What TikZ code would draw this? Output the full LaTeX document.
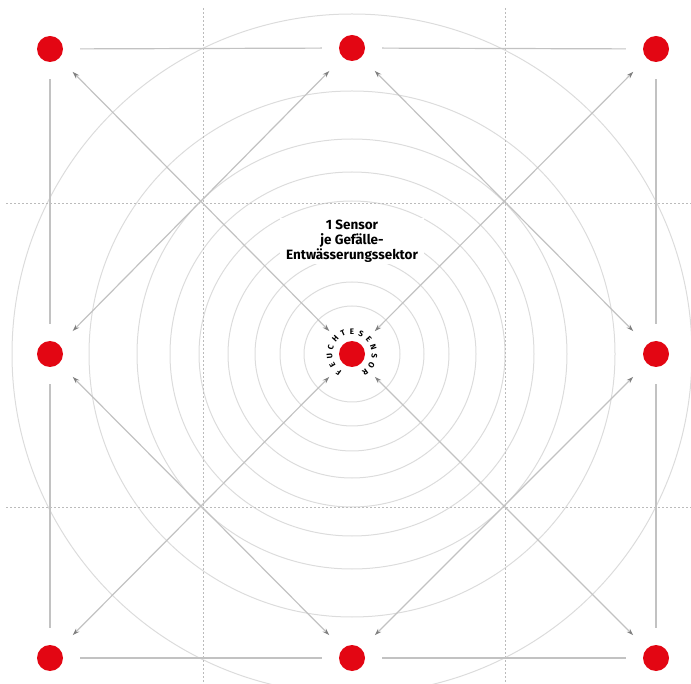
\documentclass[tikz,border=0pt]{standalone}
\usepackage{fontspec}
\setmainfont{Fira Sans}
\usetikzlibrary{arrows.meta}
\definecolor{sensorred}{HTML}{E30613}
\definecolor{linegray}{HTML}{C2C2C2}
\definecolor{ringgray}{HTML}{DCDCDC}
\definecolor{tipgray}{HTML}{808080}
\definecolor{dotgray}{HTML}{BBBBBB}

\begin{document}
\begin{tikzpicture}[x=1pt,y=-1pt,
		sensor/.style={
			circle,
			fill=sensorred,
			minimum size=26pt,
			inner sep=0pt
		},
		rim/.style={draw=linegray,line width=1.2pt,shorten <=17pt,shorten >=17pt},
		flow/.style={draw=linegray,line width=1.2pt,
			{Stealth[length=7pt,width=4.5pt,color=tipgray]}-{Stealth[length=7pt,width=4.5pt,color=tipgray]},
			shorten <=19pt,shorten >=19pt},
		ring/.style={draw=ringgray,line width=1pt},
		gridline/.style={draw=dotgray,line width=0.8pt,dash pattern=on 2pt off 2pt},
		letter/.style={font=\bfseries\fontsize{8}{8}\selectfont,inner sep=0pt}]
	
	\useasboundingbox (0,0) rectangle (691,684);
	\clip (0,0) rectangle (691,684);
	
	\coordinate (mid) at (352,354);
	
	% rings round the sensor
	\foreach \r in {48,72,97,124,153,182,215,263,340}
		\draw[ring] (mid) circle[radius=\r pt];
	
	% sector grid
	\draw[gridline] (203,8) -- (203,684);
	\draw[gridline] (505,8) -- (505,684);
	\draw[gridline] (6,203) -- (691,203);
	\draw[gridline] (6,507) -- (691,507);
	
	\node[sensor](nw) at (50,49){};
	\node[sensor](n) at (352,48){};
	\node[sensor](ne) at (656,49){};
	\node[sensor](w) at (50,354){};
	\node[sensor](c) at (mid){};
	\node[sensor](e) at (656,354){};
	\node[sensor](sw) at (50,658){};
	\node[sensor](s) at (352,658){};
	\node[sensor](se) at (656,658){};
	
	\draw[rim](nw)--(n);
	\draw[rim](n)--(ne);
	\draw[rim](ne)--(e);
	\draw[rim](e)--(se);
	\draw[rim](se)--(s);
	\draw[rim](s)--(sw);
	\draw[rim](sw)--(w);
	\draw[rim](w)--(nw);
	
	\draw[flow](nw)--(c);
	\draw[flow](ne)--(c);
	\draw[flow](se)--(c);
	\draw[flow](sw)--(c);
	
	\draw[flow](n)--(w);
	\draw[flow](n)--(e);
	\draw[flow](s)--(e);
	\draw[flow](s)--(w);
	
	\node[fill=white,align=center,inner xsep=6pt,inner ysep=2pt,
		font=\bfseries\fontsize{13.5}{15}\selectfont](label) at (352,241)
		{1 Sensor\\je Gefälle-\\Entwässerungssektor};
	
	% lettering round the middle sensor
	\foreach \ch [count=\i from 0] in {F,E,U,C,H,T,E,S,E,N,S,O,R}
		\node[letter,rotate={(6-\i)*24}] at ([shift={({90+(6-\i)*24}:22.5pt)}]c) {\ch};
	
\end{tikzpicture}
\end{document}
